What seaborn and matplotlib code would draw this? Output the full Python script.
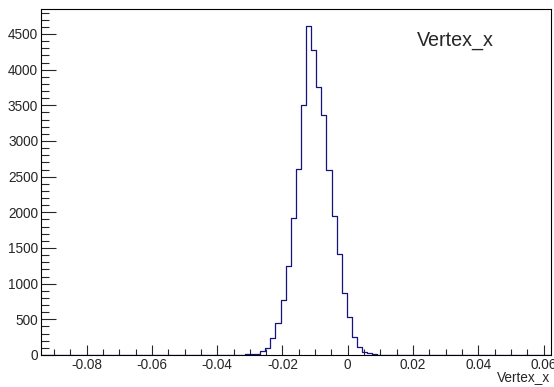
import numpy as np
import pandas as pd
import matplotlib
matplotlib.use("Agg")
import matplotlib.pyplot as plt
from matplotlib.ticker import MultipleLocator
import seaborn as sns

# histogram settings (100 bins, ROOT style)
x_lo, x_hi, n_bins = -0.094, 0.0622, 100
first_bin = 40
counts = [10, 15, 20, 56, 94, 234, 452, 772, 1250, 1922, 2614, 3500, 4610,
          4274, 3762, 3370, 2590, 1950, 1414, 864, 536, 248, 108, 46, 24, 10, 3]
title = "Vertex_x"
xlabel = "Vertex_x"

edges = np.linspace(x_lo, x_hi, n_bins + 1)
centers = 0.5 * (edges[:-1] + edges[1:])
df = pd.DataFrame({"x": centers[first_bin:first_bin + len(counts)], "w": counts})

sns.set_style("ticks")
plt.rcParams['font.family'] = ['Liberation Sans', 'DejaVu Sans']

fig = plt.figure(figsize=(5.54, 3.87), dpi=100)
ax = fig.add_axes([41 / 554, 1 - 355 / 387, (550.7 - 41) / 554, (355 - 9) / 387])

sns.histplot(data=df, x="x", weights="w", bins=n_bins, binrange=(x_lo, x_hi),
             element="step", fill=False, color="#14147c", linewidth=0.9, ax=ax)

ax.set_xlim(x_lo, x_hi)
ax.set_ylim(0, 4850)
ax.xaxis.set_major_locator(MultipleLocator(0.02))
ax.xaxis.set_minor_locator(MultipleLocator(0.005))
ax.yaxis.set_major_locator(MultipleLocator(500))
ax.yaxis.set_minor_locator(MultipleLocator(100))
ax.xaxis.set_major_formatter(plt.FuncFormatter(lambda v, p: "0" if abs(v) < 1e-9 else f"{v:g}"))

ax.tick_params(axis="x", which="major", direction="in", length=7.2, width=0.8,
               labelsize=9.8, pad=2, top=False)
ax.tick_params(axis="x", which="minor", direction="in", length=4, width=0.8, top=False)
ax.tick_params(axis="y", which="major", direction="in", length=11, width=0.8,
               labelsize=9.8, pad=2, right=False)
ax.tick_params(axis="y", which="minor", direction="in", length=5.5, width=0.8, right=False)

for s in ax.spines.values():
    s.set_visible(True)
    s.set_linewidth(0.8)
    s.set_color("black")

ax.set_ylabel("")
ax.set_xlabel("")
fig.text(550 / 554, 1 - 381 / 387, xlabel, ha="right", va="baseline", fontsize=9.8)
fig.text(455 / 554, 1 - 41 / 387, title, ha="center", va="center", fontsize=14.2)

fig.savefig("out.png", dpi=100)
plt.close()
